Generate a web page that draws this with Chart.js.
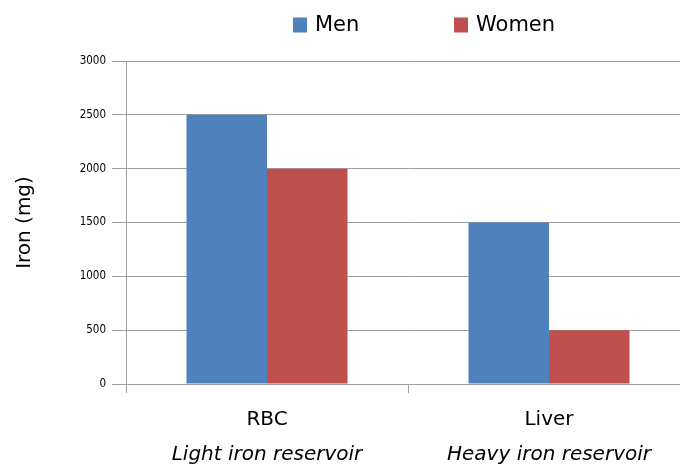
<!DOCTYPE html>
<html>
<head>
<meta charset="utf-8">
<script src="https://cdn.jsdelivr.net/npm/chart.js@4.4.1/dist/chart.umd.min.js"></script>
<style>
  html, body { margin: 0; padding: 0; background: #fff; overflow: hidden; }
  #wrap { width: 690px; height: 468px; }
</style>
</head>
<body>
<div id="wrap"><canvas id="ironChart" width="690" height="468"></canvas></div>
<script>
// data
const sites = ['RBC', 'Liver'];
const reservoirs = ['Light iron reservoir', 'Heavy iron reservoir'];
const menIron = [2500, 1500];
const womenIron = [2000, 500];
const yTicks = [0, 500, 1000, 1500, 2000, 2500, 3000];

const GRID = '#a0a0a0';
const BIG = '"DejaVu Sans", sans-serif';

// legend drawn Excel-style: items spread out over the top
const topLegend = {
  id: 'topLegend',
  afterDraw(chart) {
    const ctx = chart.ctx;
    ctx.save();
    ctx.font = '21px ' + BIG;
    ctx.textBaseline = 'middle';
    let x = 293;
    const y = 25;
    chart.data.datasets.forEach(ds => {
      ctx.fillStyle = ds.backgroundColor;
      ctx.fillRect(x, y - 7.5, 14, 15);
      ctx.fillStyle = '#000';
      ctx.fillText(ds.label, x + 22, y + 1);
      x += 161;
    });
    ctx.restore();
  }
};

new Chart(document.getElementById('ironChart'), {
  type: 'bar',
  data: {
    labels: sites,
    datasets: [
      { label: 'Men', data: menIron, backgroundColor: '#4F81BD' },
      { label: 'Women', data: womenIron, backgroundColor: '#C0504D' }
    ]
  },
  options: {
    responsive: false,
    animation: false,
    devicePixelRatio: 1,
    layout: { padding: { top: 61, left: 0, right: 0, bottom: 0 } },
    datasets: { bar: { categoryPercentage: 0.571, barPercentage: 1.0 } },
    plugins: {
      legend: { display: false },
      tooltip: { enabled: false }
    },
    scales: {
      x: {
        position: 'bottom',
        grid: { offset: true, drawOnChartArea: false, color: GRID, tickLength: 9, lineWidth: 1 },
        border: { color: GRID, width: 1 },
        ticks: { color: '#000', font: { family: BIG, size: 20 }, padding: 15 },
        afterFit: s => { s.height = 50; }
      },
      x2: {
        type: 'category',
        labels: reservoirs,
        position: 'bottom',
        offset: true,
        grid: { display: false },
        border: { display: false },
        ticks: { color: '#000', font: { family: BIG, size: 20, style: 'italic' }, padding: 1 },
        afterFit: s => { s.height = 34; }
      },
      y: {
        min: 0,
        max: 3000,
        afterBuildTicks: s => { s.ticks = yTicks.map(v => ({ value: v })); },
        grid: { color: GRID, tickColor: GRID, tickLength: 14, lineWidth: 1 },
        border: { color: GRID, width: 1 },
        ticks: {
          color: '#000',
          padding: 6,
          callback: v => String(v),
          font: { family: '"Liberation Sans Narrow", "DejaVu Sans Condensed", sans-serif', size: 11.5 }
        },
        title: {
          display: true,
          text: 'Iron (mg)',
          color: '#000',
          font: { family: BIG, size: 20 },
          padding: { top: 13, bottom: 0 }
        },
        afterFit: s => { s.width = 126; }
      }
    }
  },
  plugins: [topLegend]
});
</script>
</body>
</html>
